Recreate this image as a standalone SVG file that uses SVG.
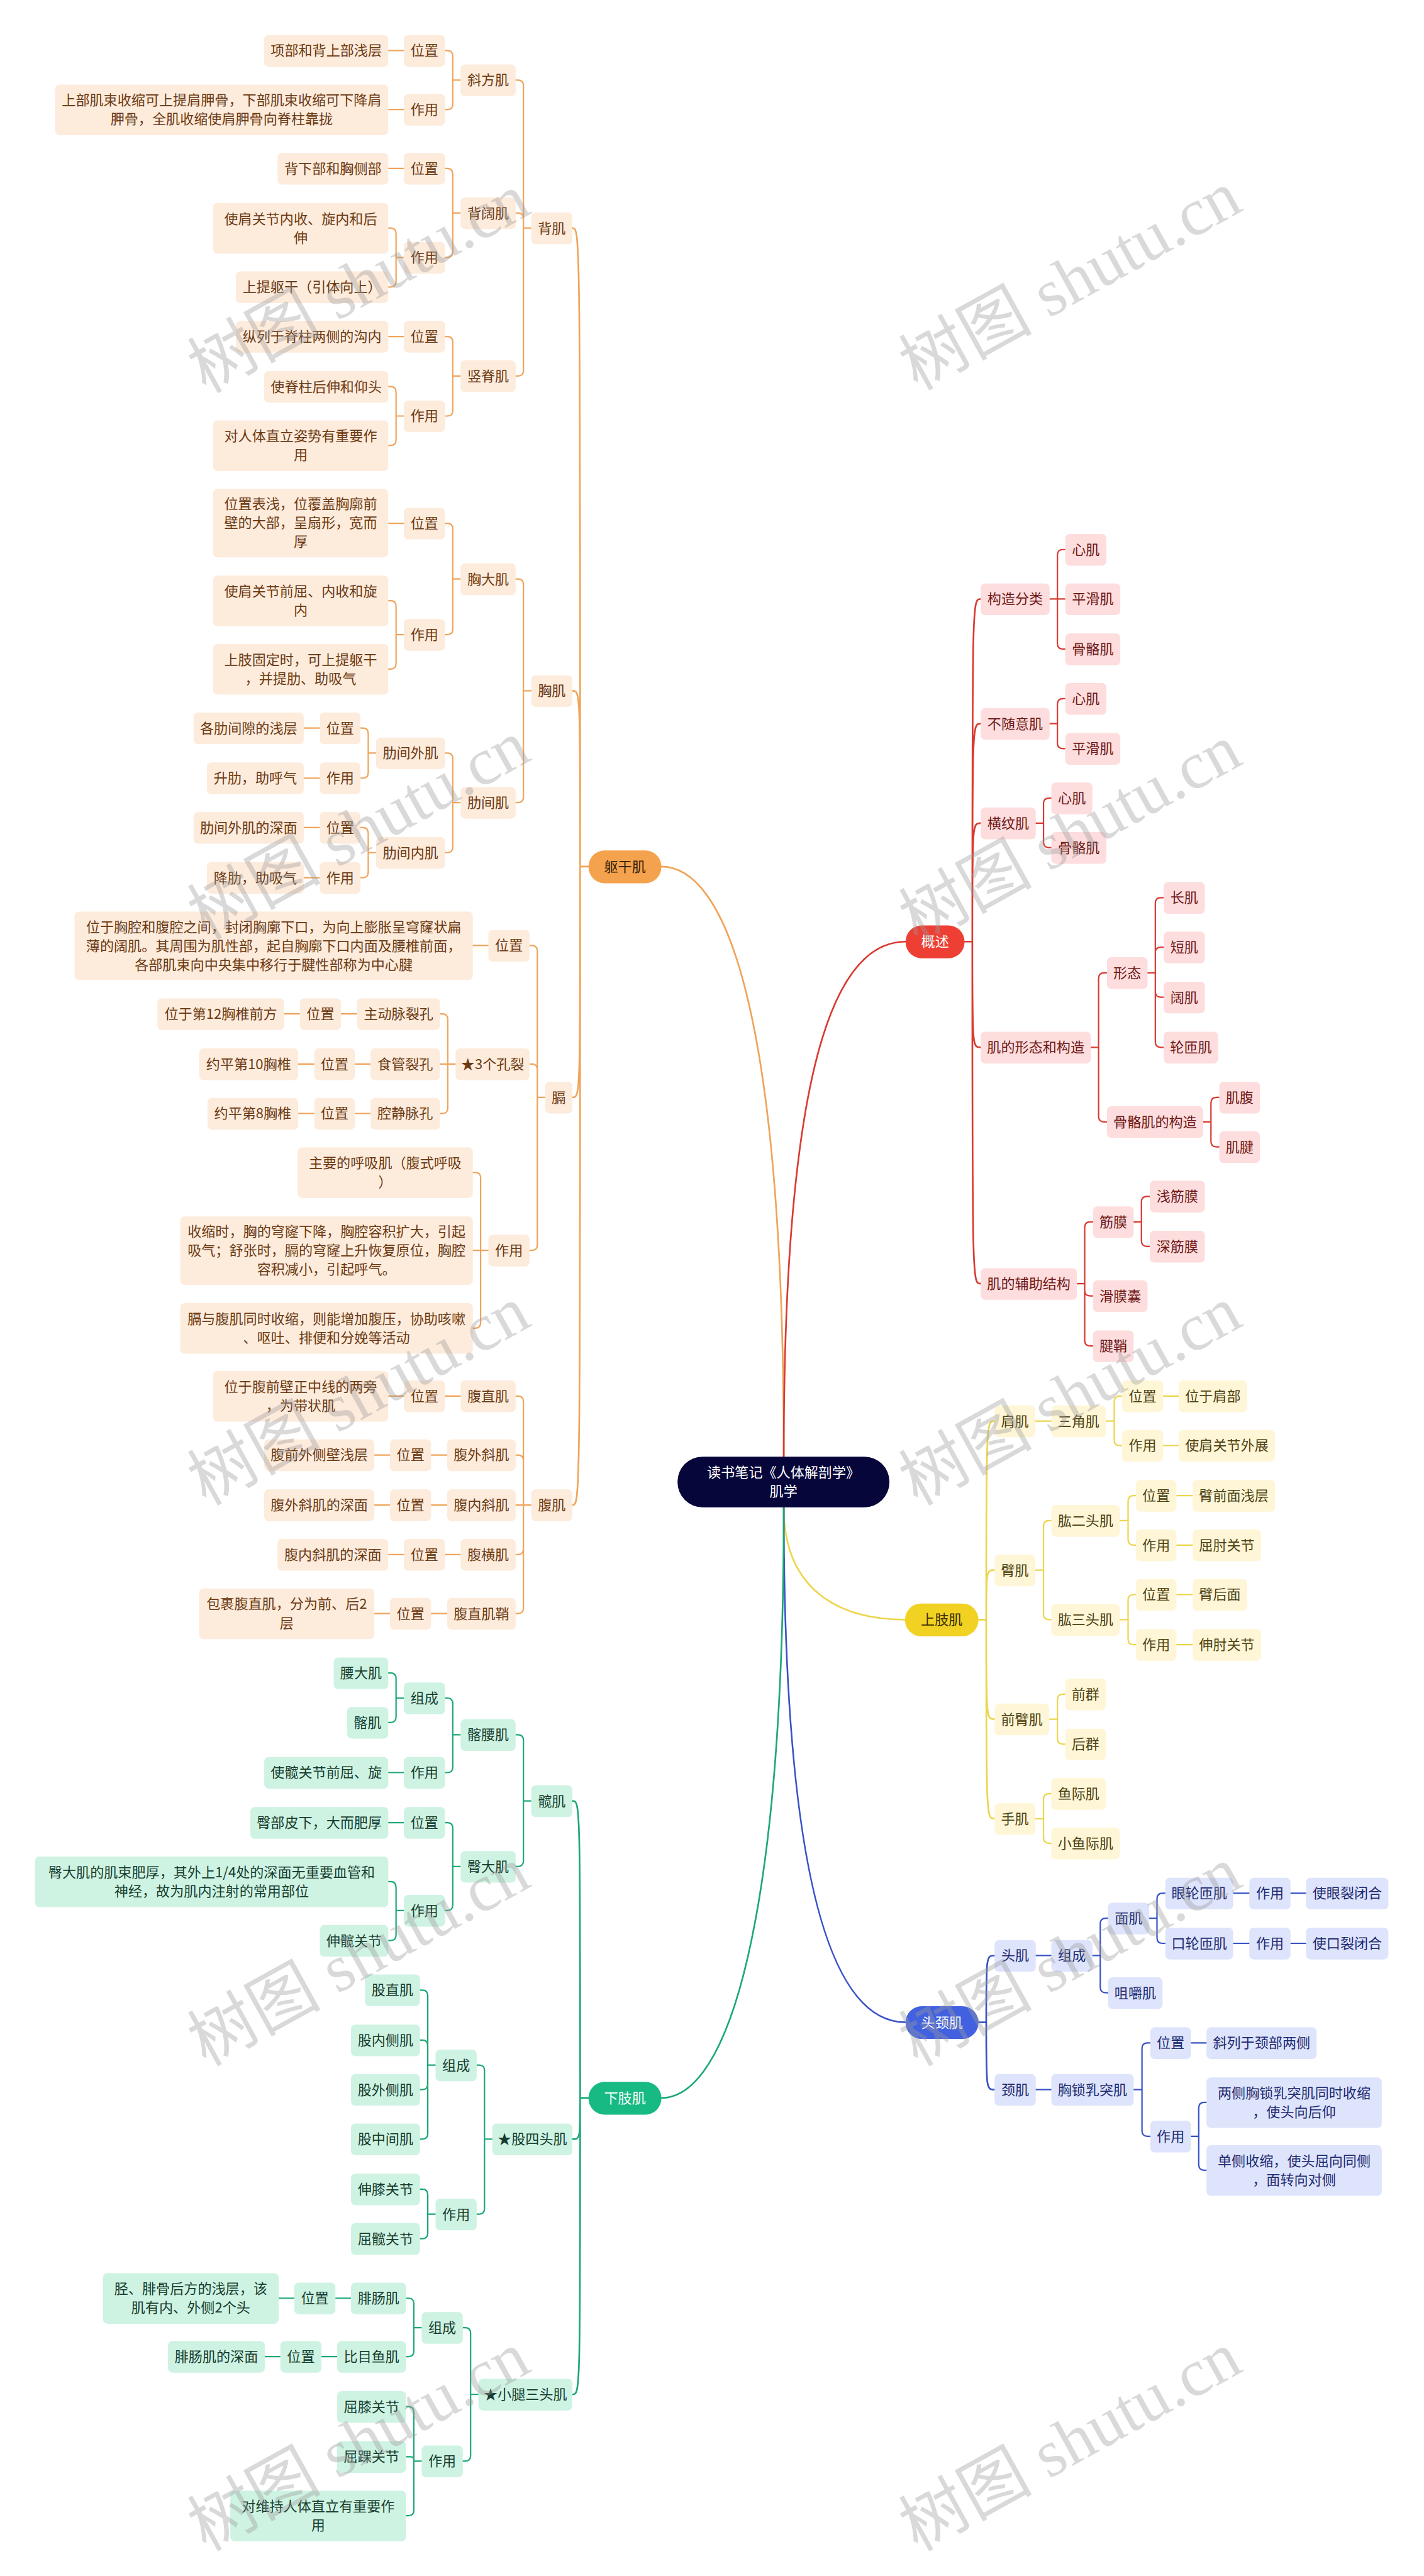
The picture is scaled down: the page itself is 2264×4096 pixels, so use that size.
<svg xmlns="http://www.w3.org/2000/svg" width="2264" height="4096" viewBox="0 0 2264 4096">
<style>
text{font-family:"Noto Sans CJK SC","Noto Sans",sans-serif;font-size:25px;text-anchor:middle}
.nd rect{rx:8px;ry:8px}
.o rect{fill:#FDEBDC}.o text{fill:#6B3A12}
.g rect{fill:#CFF3E3}.g text{fill:#163D2E}
.r rect{fill:#FDDDDD}.r text{fill:#6E1818}
.y rect{fill:#FEF6D6}.y text{fill:#4D4214}
.b rect{fill:#DDE4FB}.b text{fill:#1E2A70}
.p rect{rx:29px;ry:29px}
.po rect{fill:#F5A24E}.po text{fill:#3A2308}
.pg rect{fill:#16BA82}.pg text{fill:#fff}
.pr rect{fill:#EE3F35}.pr text{fill:#fff}
.py rect{fill:#F1D223}.py text{fill:#3A3000}
.pb rect{fill:#4161E0}.pb text{fill:#fff}
.ctr rect{fill:#06063A;rx:45px;ry:45px}.ctr text{fill:#fff}
.c{fill:none;stroke-width:2.5;stroke-linecap:round;stroke-linejoin:round}
.t{stroke-width:3}
.co{stroke:#F0A45A}.cg{stroke:#1CA878}.cr{stroke:#D93A31}.cyl{stroke:#EDD54A}.cb{stroke:#3852C6}
.wm{font-family:"Liberation Serif","Noto Sans CJK SC",serif;font-size:120px;fill:#9a9a9a;fill-opacity:.38;text-anchor:middle}
</style>
<rect width="2264" height="4096" fill="#fff"/>
<g transform="scale(0.884375)">
<g id="connectors">
<g id="center-links">
<path class="c t co" d="M1409 2619 C1409 1800 1300 1558 1189 1558"/>
<path class="c t cr" d="M1409 2619 C1409 1850 1520 1693 1628 1693"/>
<path class="c t cyl" d="M1409 2710 C1409 2860 1510 2912 1627 2912"/>
<path class="c t cb" d="M1409 2710 C1409 3400 1500 3636 1628 3636"/>
<path class="c t cg" d="M1409 2710 C1409 3450 1310 3772 1189 3772"/>
</g>
<g id="orange-links">
<path class="c t co" d="M1058 1558 H1043 M1043 1558 C1043 410 1043 410 1029 410 M1043 1558 C1043 1242 1043 1242 1029 1242 M1043 1558 C1043 1973 1043 1973 1029 1973 M1043 1558 C1043 2706 1043 2706 1029 2706"/>
<path class="c co" d="M955 410 H941 V154 Q941 144 931 144 H927 M955 410 H941 V393 Q941 383 931 383 H927 M955 410 H941 V666 Q941 676 931 676 H927"/>
<path class="c co" d="M828 144 H814 V101 Q814 91 804 91 H800 M828 144 H814 V187 Q814 197 804 197 H800 M726 91 H698 M726 197 H698"/>
<path class="c co" d="M828 383 H814 V313 Q814 303 804 303 H800 M828 383 H814 V453 Q814 463 804 463 H800 M726 303 H698 M726 463 H712 V420 Q712 410 702 410 H698 M726 463 H712 V506 Q712 516 702 516 H698"/>
<path class="c co" d="M828 676 H814 V615 Q814 605 804 605 H800 M828 676 H814 V738 Q814 748 804 748 H800 M726 605 H698 M726 748 H712 V705 Q712 695 702 695 H698 M726 748 H712 V791 Q712 801 702 801 H698"/>
<path class="c co" d="M955 1242 H941 V1051 Q941 1041 931 1041 H927 M955 1242 H941 V1433 Q941 1443 931 1443 H927"/>
<path class="c co" d="M828 1041 H814 V951 Q814 941 804 941 H800 M828 1041 H814 V1131 Q814 1141 804 1141 H800 M726 941 H698 M726 1141 H712 V1090 Q712 1080 702 1080 H698 M726 1141 H712 V1193 Q712 1203 702 1203 H698"/>
<path class="c co" d="M828 1443 H814 V1364 Q814 1354 804 1354 H800 M828 1443 H814 V1523 Q814 1533 804 1533 H800"/>
<path class="c co" d="M676 1354 H662 V1319 Q662 1309 652 1309 H648 M676 1354 H662 V1389 Q662 1399 652 1399 H648 M575 1309 H546 M575 1399 H546"/>
<path class="c co" d="M676 1533 H662 V1498 Q662 1488 652 1488 H648 M676 1533 H662 V1568 Q662 1578 652 1578 H648 M575 1488 H546 M575 1578 H546"/>
<path class="c co" d="M980 1973 H966 V1710 Q966 1700 956 1700 H952 M980 1973 H966 V1923 Q966 1913 956 1913 H952 M980 1973 H966 V2238 Q966 2248 956 2248 H952 M878 1700 H850"/>
<path class="c co" d="M819 1913 H805 V1833 Q805 1823 795 1823 H791 M819 1913 H791 M819 1913 H805 V1992 Q805 2002 795 2002 H791 M642 1823 H613 M539 1823 H511 M666 1913 H638 M565 1913 H536 M666 2002 H638 M565 2002 H536"/>
<path class="c co" d="M878 2248 H864 V2118 Q864 2108 854 2108 H850 M878 2248 H850 M878 2248 H864 V2378 Q864 2388 854 2388 H850"/>
<path class="c co" d="M955 2706 H941 V2520 Q941 2510 931 2510 H927 M955 2706 H941 V2626 Q941 2616 931 2616 H927 M955 2706 H927 M955 2706 H941 V2785 Q941 2795 931 2795 H927 M955 2706 H941 V2891 Q941 2901 931 2901 H927"/>
<path class="c co" d="M828 2510 H800 M726 2510 H698 M804 2616 H775 M701 2616 H673 M804 2706 H775 M701 2706 H673 M828 2795 H800 M726 2795 H698 M804 2901 H775 M701 2901 H673"/>
</g>
<g id="green-links">
<path class="c t cg" d="M1058 3772 H1043 M1043 3772 C1043 3238 1043 3238 1029 3238 M1043 3772 C1043 3846 1043 3846 1029 3846 M1043 3772 C1043 4305 1043 4305 1029 4305"/>
<path class="c cg" d="M955 3238 H941 V3129 Q941 3119 931 3119 H927 M955 3238 H941 V3346 Q941 3356 931 3356 H927"/>
<path class="c cg" d="M828 3119 H814 V3063 Q814 3053 804 3053 H800 M828 3119 H814 V3177 Q814 3187 804 3187 H800 M726 3053 H712 V3018 Q712 3008 702 3008 H698 M726 3053 H712 V3087 Q712 3097 702 3097 H698 M726 3187 H698"/>
<path class="c cg" d="M828 3356 H814 V3287 Q814 3277 804 3277 H800 M828 3356 H814 V3425 Q814 3435 804 3435 H800 M726 3277 H698 M726 3435 H712 V3393 Q712 3383 702 3383 H698 M726 3435 H712 V3479 Q712 3489 702 3489 H698"/>
<path class="c cg" d="M885 3846 H871 V3723 Q871 3713 861 3713 H857 M885 3846 H871 V3971 Q871 3981 861 3981 H857"/>
<path class="c cg" d="M783 3713 H769 V3588 Q769 3578 759 3578 H755 M783 3713 H769 V3678 Q769 3668 759 3668 H755 M783 3713 H769 V3747 Q769 3757 759 3757 H755 M783 3713 H769 V3836 Q769 3846 759 3846 H755 M783 3981 H769 V3946 Q769 3936 759 3936 H755 M783 3981 H769 V4015 Q769 4025 759 4025 H755"/>
<path class="c cg" d="M860 4305 H846 V4195 Q846 4185 836 4185 H832 M860 4305 H846 V4415 Q846 4425 836 4425 H832"/>
<path class="c cg" d="M758 4185 H744 V4142 Q744 4132 734 4132 H730 M758 4185 H744 V4227 Q744 4237 734 4237 H730 M631 4132 H603 M529 4132 H501 M606 4237 H578 M504 4237 H476"/>
<path class="c cg" d="M758 4425 H744 V4337 Q744 4327 734 4327 H730 M758 4425 H744 V4423 Q744 4417 738 4417 H730 M758 4425 H744 V4513 Q744 4523 734 4523 H730"/>
</g>
<g id="red-links">
<path class="c t cr" d="M1734 1693 H1748 M1748 1693 C1748 1077 1748 1077 1763 1077 M1748 1693 C1748 1301 1748 1301 1763 1301 M1748 1693 C1748 1480 1748 1480 1763 1480 M1748 1693 C1748 1883 1748 1883 1763 1883 M1748 1693 C1748 2308 1748 2308 1763 2308"/>
<path class="c cr" d="M1887 1077 H1901 V998 Q1901 988 1911 988 H1915 M1887 1077 H1915 M1887 1077 H1901 V1157 Q1901 1167 1911 1167 H1915"/>
<path class="c cr" d="M1887 1301 H1901 V1266 Q1901 1256 1911 1256 H1915 M1887 1301 H1901 V1336 Q1901 1346 1911 1346 H1915"/>
<path class="c cr" d="M1862 1480 H1876 V1445 Q1876 1435 1886 1435 H1890 M1862 1480 H1876 V1514 Q1876 1524 1886 1524 H1890"/>
<path class="c cr" d="M1961 1883 H1975 V1759 Q1975 1749 1985 1749 H1990 M1961 1883 H1975 V2007 Q1975 2017 1985 2017 H1990"/>
<path class="c cr" d="M2063 1749 H2077 V1624 Q2077 1614 2087 1614 H2092 M2063 1749 H2077 V1713 Q2077 1703 2087 1703 H2092 M2063 1749 H2077 V1783 Q2077 1793 2087 1793 H2092 M2063 1749 H2077 V1873 Q2077 1883 2087 1883 H2092"/>
<path class="c cr" d="M2163 2017 H2177 V1983 Q2177 1973 2187 1973 H2192 M2163 2017 H2177 V2052 Q2177 2062 2187 2062 H2192"/>
<path class="c cr" d="M1936 2308 H1950 V2207 Q1950 2197 1960 2197 H1965 M1936 2308 H1950 V2320 Q1950 2330 1960 2330 H1965 M1936 2308 H1950 V2410 Q1950 2420 1960 2420 H1965"/>
<path class="c cr" d="M2038 2197 H2052 V2161 Q2052 2151 2062 2151 H2067 M2038 2197 H2052 V2231 Q2052 2241 2062 2241 H2067"/>
</g>
<g id="yellow-links">
<path class="c t cyl" d="M1759 2912 H1773 M1773 2912 C1773 2555 1773 2555 1788 2555 M1773 2912 C1773 2823 1773 2823 1788 2823 M1773 2912 C1773 3091 1773 3091 1788 3091 M1773 2912 C1773 3270 1773 3270 1788 3270"/>
<path class="c cyl" d="M1861 2555 H1890 M1988 2555 H2003 V2520 Q2003 2510 2013 2510 H2017 M1988 2555 H2003 V2589 Q2003 2599 2013 2599 H2017 M2091 2510 H2119 M2091 2599 H2119"/>
<path class="c cyl" d="M1861 2823 H1876 V2744 Q1876 2734 1886 2734 H1890 M1861 2823 H1876 V2902 Q1876 2912 1886 2912 H1890"/>
<path class="c cyl" d="M2013 2734 H2028 V2699 Q2028 2689 2038 2689 H2042 M2013 2734 H2028 V2768 Q2028 2778 2038 2778 H2042 M2115 2689 H2144 M2115 2778 H2144"/>
<path class="c cyl" d="M2013 2912 H2028 V2877 Q2028 2867 2038 2867 H2042 M2013 2912 H2028 V2947 Q2028 2957 2038 2957 H2042 M2115 2867 H2144 M2115 2957 H2144"/>
<path class="c cyl" d="M1886 3091 H1901 V3056 Q1901 3046 1911 3046 H1915 M1886 3091 H1901 V3126 Q1901 3136 1911 3136 H1915"/>
<path class="c cyl" d="M1861 3270 H1876 V3235 Q1876 3225 1886 3225 H1890 M1861 3270 H1876 V3304 Q1876 3314 1886 3314 H1890"/>
</g>
<g id="blue-links">
<path class="c t cb" d="M1759 3636 H1773 M1773 3636 C1773 3516 1773 3516 1788 3516 M1773 3636 C1773 3757 1773 3757 1788 3757"/>
<path class="c cb" d="M1862 3516 H1890 M1964 3516 H1978 V3459 Q1978 3449 1988 3449 H1992 M1964 3516 H1978 V3573 Q1978 3583 1988 3583 H1992"/>
<path class="c cb" d="M2066 3449 H2080 V3414 Q2080 3404 2090 3404 H2095 M2066 3449 H2080 V3484 Q2080 3494 2090 3494 H2095 M2217 3404 H2246 M2320 3404 H2348 M2217 3494 H2246 M2320 3494 H2348"/>
<path class="c cb" d="M1862 3757 H1890 M2038 3757 H2053 V3683 Q2053 3673 2063 3673 H2068 M2038 3757 H2053 V3831 Q2053 3841 2063 3841 H2068 M2141 3673 H2169"/>
<path class="c cb" d="M2141 3841 H2155 V3790 Q2155 3780 2165 3780 H2169 M2141 3841 H2155 V3892 Q2155 3902 2165 3902 H2169"/>
</g>
</g>

<g id="nodes">
<g id="root" class="ctr"><rect x="1218" y="2619" width="381" height="91"/><text x="1408.5" y="2656">读书笔记《人体解剖学》</text><text x="1408.5" y="2690">肌学</text></g>

<g id="n-qugan" class="nd p po"><rect x="1058" y="1529" width="131" height="59"/><text x="1123.5" y="1567">躯干肌</text></g>
<g id="n-beiji" class="nd o"><rect x="955" y="382" width="74" height="57"/><text x="992" y="419">背肌</text></g>
<g id="n-xiefang" class="nd o"><rect x="828" y="116" width="99" height="57"/><text x="877.5" y="153">斜方肌</text></g>
<g id="n-xf-wz" class="nd o"><rect x="726" y="63" width="74" height="57"/><text x="763" y="100">位置</text></g>
<g id="n-xf-wz-t" class="nd o"><rect x="475" y="63" width="223" height="57"/><text x="586.5" y="100">项部和背上部浅层</text></g>
<g id="n-xf-zy" class="nd o"><rect x="726" y="169" width="74" height="57"/><text x="763" y="206">作用</text></g>
<g id="n-xf-zy-t" class="nd o"><rect x="99" y="152" width="599" height="91"/><text x="398.5" y="189">上部肌束收缩可上提肩胛骨，下部肌束收缩可下降肩</text><text x="398.5" y="223">胛骨，全肌收缩使肩胛骨向脊柱靠拢</text></g>
<g id="n-beikuo" class="nd o"><rect x="828" y="355" width="99" height="57"/><text x="877.5" y="392">背阔肌</text></g>
<g id="n-bk-wz" class="nd o"><rect x="726" y="275" width="74" height="57"/><text x="763" y="312">位置</text></g>
<g id="n-bk-wz-t" class="nd o"><rect x="499" y="275" width="199" height="57"/><text x="598.5" y="312">背下部和胸侧部</text></g>
<g id="n-bk-zy" class="nd o"><rect x="726" y="435" width="74" height="57"/><text x="763" y="472">作用</text></g>
<g id="n-bk-zy-1" class="nd o"><rect x="383" y="365" width="315" height="91"/><text x="540.5" y="402">使肩关节内收、旋内和后</text><text x="540.5" y="436">伸</text></g>
<g id="n-bk-zy-2" class="nd o"><rect x="424" y="488" width="274" height="57"/><text x="561" y="525">上提躯干（引体向上）</text></g>
<g id="n-shuji" class="nd o"><rect x="828" y="648" width="99" height="57"/><text x="877.5" y="685">竖脊肌</text></g>
<g id="n-sj-wz" class="nd o"><rect x="726" y="577" width="74" height="57"/><text x="763" y="614">位置</text></g>
<g id="n-sj-wz-t" class="nd o"><rect x="424" y="577" width="274" height="57"/><text x="561" y="614">纵列于脊柱两侧的沟内</text></g>
<g id="n-sj-zy" class="nd o"><rect x="726" y="720" width="74" height="57"/><text x="763" y="757">作用</text></g>
<g id="n-sj-zy-1" class="nd o"><rect x="475" y="667" width="223" height="57"/><text x="586.5" y="704">使脊柱后伸和仰头</text></g>
<g id="n-sj-zy-2" class="nd o"><rect x="383" y="756" width="315" height="91"/><text x="540.5" y="793">对人体直立姿势有重要作</text><text x="540.5" y="827">用</text></g>
<g id="n-xiongji" class="nd o"><rect x="955" y="1214" width="74" height="57"/><text x="992" y="1251">胸肌</text></g>
<g id="n-xiongda" class="nd o"><rect x="828" y="1013" width="99" height="57"/><text x="877.5" y="1050">胸大肌</text></g>
<g id="n-xd-wz" class="nd o"><rect x="726" y="913" width="74" height="57"/><text x="763" y="950">位置</text></g>
<g id="n-xd-wz-t" class="nd o"><rect x="383" y="879" width="315" height="123"/><text x="540.5" y="915">位置表浅，位覆盖胸廓前</text><text x="540.5" y="949">壁的大部，呈扇形，宽而</text><text x="540.5" y="983">厚</text></g>
<g id="n-xd-zy" class="nd o"><rect x="726" y="1113" width="74" height="57"/><text x="763" y="1150">作用</text></g>
<g id="n-xd-zy-1" class="nd o"><rect x="383" y="1035" width="315" height="91"/><text x="540.5" y="1072">使肩关节前屈、内收和旋</text><text x="540.5" y="1106">内</text></g>
<g id="n-xd-zy-2" class="nd o"><rect x="383" y="1158" width="315" height="91"/><text x="540.5" y="1195">上肢固定时，可上提躯干</text><text x="540.5" y="1229">，并提肋、助吸气</text></g>
<g id="n-leijian" class="nd o"><rect x="828" y="1415" width="99" height="57"/><text x="877.5" y="1452">肋间肌</text></g>
<g id="n-ljw" class="nd o"><rect x="676" y="1326" width="124" height="57"/><text x="738" y="1363">肋间外肌</text></g>
<g id="n-ljw-wz" class="nd o"><rect x="575" y="1281" width="73" height="57"/><text x="611.5" y="1318">位置</text></g>
<g id="n-ljw-wz-t" class="nd o"><rect x="348" y="1281" width="198" height="57"/><text x="447" y="1318">各肋间隙的浅层</text></g>
<g id="n-ljw-zy" class="nd o"><rect x="575" y="1371" width="73" height="57"/><text x="611.5" y="1408">作用</text></g>
<g id="n-ljw-zy-t" class="nd o"><rect x="372" y="1371" width="174" height="57"/><text x="459" y="1408">升肋，助呼气</text></g>
<g id="n-ljn" class="nd o"><rect x="676" y="1505" width="124" height="57"/><text x="738" y="1542">肋间内肌</text></g>
<g id="n-ljn-wz" class="nd o"><rect x="575" y="1460" width="73" height="57"/><text x="611.5" y="1497">位置</text></g>
<g id="n-ljn-wz-t" class="nd o"><rect x="348" y="1460" width="198" height="57"/><text x="447" y="1497">肋间外肌的深面</text></g>
<g id="n-ljn-zy" class="nd o"><rect x="575" y="1550" width="73" height="57"/><text x="611.5" y="1587">作用</text></g>
<g id="n-ljn-zy-t" class="nd o"><rect x="372" y="1550" width="174" height="57"/><text x="459" y="1587">降肋，助吸气</text></g>
<g id="n-ge" class="nd o"><rect x="980" y="1945" width="49" height="57"/><text x="1004.5" y="1982">膈</text></g>
<g id="n-ge-wz" class="nd o"><rect x="878" y="1672" width="74" height="57"/><text x="915" y="1709">位置</text></g>
<g id="n-ge-wz-t" class="nd o"><rect x="134" y="1639" width="716" height="123"/><text x="492" y="1676">位于胸腔和腹腔之间，封闭胸廓下口，为向上膨胀呈穹窿状扁</text><text x="492" y="1710">薄的阔肌。其周围为肌性部，起自胸廓下口内面及腰椎前面，</text><text x="492" y="1744">各部肌束向中央集中移行于腱性部称为中心腱</text></g>
<g id="n-kl" class="nd o"><rect x="819" y="1885" width="133" height="57"/><text x="885.5" y="1922">★3个孔裂</text></g>
<g id="n-zdm" class="nd o"><rect x="642" y="1795" width="149" height="57"/><text x="716.5" y="1832">主动脉裂孔</text></g>
<g id="n-zdm-wz" class="nd o"><rect x="539" y="1795" width="74" height="57"/><text x="576" y="1832">位置</text></g>
<g id="n-zdm-t" class="nd o"><rect x="283" y="1795" width="228" height="57"/><text x="397" y="1832">位于第12胸椎前方</text></g>
<g id="n-sg" class="nd o"><rect x="666" y="1885" width="125" height="57"/><text x="728.5" y="1922">食管裂孔</text></g>
<g id="n-sg-wz" class="nd o"><rect x="565" y="1885" width="73" height="57"/><text x="601.5" y="1922">位置</text></g>
<g id="n-sg-t" class="nd o"><rect x="358" y="1885" width="178" height="57"/><text x="447" y="1922">约平第10胸椎</text></g>
<g id="n-qj" class="nd o"><rect x="666" y="1974" width="125" height="57"/><text x="728.5" y="2011">腔静脉孔</text></g>
<g id="n-qj-wz" class="nd o"><rect x="565" y="1974" width="73" height="57"/><text x="601.5" y="2011">位置</text></g>
<g id="n-qj-t" class="nd o"><rect x="373" y="1974" width="163" height="57"/><text x="454.5" y="2011">约平第8胸椎</text></g>
<g id="n-ge-zy" class="nd o"><rect x="878" y="2220" width="74" height="57"/><text x="915" y="2257">作用</text></g>
<g id="n-ge-zy-1" class="nd o"><rect x="535" y="2063" width="315" height="91"/><text x="692.5" y="2100">主要的呼吸肌（腹式呼吸</text><text x="692.5" y="2134">）</text></g>
<g id="n-ge-zy-2" class="nd o"><rect x="324" y="2187" width="526" height="123"/><text x="587" y="2223">收缩时，胸的穹窿下降，胸腔容积扩大，引起</text><text x="587" y="2257">吸气；舒张时，膈的穹窿上升恢复原位，胸腔</text><text x="587" y="2291">容积减小，引起呼气。</text></g>
<g id="n-ge-zy-3" class="nd o"><rect x="324" y="2343" width="526" height="91"/><text x="587" y="2380">膈与腹肌同时收缩，则能增加腹压，协助咳嗽</text><text x="587" y="2414">、呕吐、排便和分娩等活动</text></g>
<g id="n-fuji" class="nd o"><rect x="955" y="2678" width="74" height="57"/><text x="992" y="2715">腹肌</text></g>
<g id="n-fzj" class="nd o"><rect x="828" y="2482" width="99" height="57"/><text x="877.5" y="2519">腹直肌</text></g>
<g id="n-fzj-wz" class="nd o"><rect x="726" y="2482" width="74" height="57"/><text x="763" y="2519">位置</text></g>
<g id="n-fzj-t" class="nd o"><rect x="383" y="2465" width="315" height="91"/><text x="540.5" y="2502">位于腹前壁正中线的两旁</text><text x="540.5" y="2536">，为带状肌</text></g>
<g id="n-fwx" class="nd o"><rect x="804" y="2588" width="123" height="57"/><text x="865.5" y="2625">腹外斜肌</text></g>
<g id="n-fwx-wz" class="nd o"><rect x="701" y="2588" width="74" height="57"/><text x="738" y="2625">位置</text></g>
<g id="n-fwx-t" class="nd o"><rect x="475" y="2588" width="198" height="57"/><text x="574" y="2625">腹前外侧壁浅层</text></g>
<g id="n-fnx" class="nd o"><rect x="804" y="2678" width="123" height="57"/><text x="865.5" y="2715">腹内斜肌</text></g>
<g id="n-fnx-wz" class="nd o"><rect x="701" y="2678" width="74" height="57"/><text x="738" y="2715">位置</text></g>
<g id="n-fnx-t" class="nd o"><rect x="475" y="2678" width="198" height="57"/><text x="574" y="2715">腹外斜肌的深面</text></g>
<g id="n-fh" class="nd o"><rect x="828" y="2767" width="99" height="57"/><text x="877.5" y="2804">腹横肌</text></g>
<g id="n-fh-wz" class="nd o"><rect x="726" y="2767" width="74" height="57"/><text x="763" y="2804">位置</text></g>
<g id="n-fh-t" class="nd o"><rect x="499" y="2767" width="199" height="57"/><text x="598.5" y="2804">腹内斜肌的深面</text></g>
<g id="n-fzq" class="nd o"><rect x="804" y="2873" width="123" height="57"/><text x="865.5" y="2910">腹直肌鞘</text></g>
<g id="n-fzq-wz" class="nd o"><rect x="701" y="2873" width="74" height="57"/><text x="738" y="2910">位置</text></g>
<g id="n-fzq-t" class="nd o"><rect x="358" y="2856" width="315" height="91"/><text x="515.5" y="2893">包裹腹直肌，分为前、后2</text><text x="515.5" y="2927">层</text></g>

<g id="n-xiazhi" class="nd p pg"><rect x="1058" y="3743" width="131" height="59"/><text x="1123.5" y="3781">下肢肌</text></g>
<g id="n-kuanji" class="nd g"><rect x="955" y="3210" width="74" height="57"/><text x="992" y="3247">髋肌</text></g>
<g id="n-qiayao" class="nd g"><rect x="828" y="3091" width="99" height="57"/><text x="877.5" y="3128">髂腰肌</text></g>
<g id="n-qy-zc" class="nd g"><rect x="726" y="3025" width="74" height="57"/><text x="763" y="3062">组成</text></g>
<g id="n-yaoda" class="nd g"><rect x="600" y="2980" width="98" height="57"/><text x="649" y="3017">腰大肌</text></g>
<g id="n-qiaji" class="nd g"><rect x="624" y="3069" width="74" height="57"/><text x="661" y="3106">髂肌</text></g>
<g id="n-qy-zy" class="nd g"><rect x="726" y="3159" width="74" height="57"/><text x="763" y="3196">作用</text></g>
<g id="n-qy-zy-t" class="nd g"><rect x="475" y="3159" width="223" height="57"/><text x="586.5" y="3196">使髋关节前屈、旋</text></g>
<g id="n-tunda" class="nd g"><rect x="828" y="3328" width="99" height="57"/><text x="877.5" y="3365">臀大肌</text></g>
<g id="n-td-wz" class="nd g"><rect x="726" y="3249" width="74" height="57"/><text x="763" y="3286">位置</text></g>
<g id="n-td-wz-t" class="nd g"><rect x="450" y="3249" width="248" height="57"/><text x="574" y="3286">臀部皮下，大而肥厚</text></g>
<g id="n-td-zy" class="nd g"><rect x="726" y="3407" width="74" height="57"/><text x="763" y="3444">作用</text></g>
<g id="n-td-zy-1" class="nd g"><rect x="63" y="3338" width="635" height="91"/><text x="380.5" y="3375">臀大肌的肌束肥厚，其外上1/4处的深面无重要血管和</text><text x="380.5" y="3409">神经，故为肌内注射的常用部位</text></g>
<g id="n-td-zy-2" class="nd g"><rect x="575" y="3461" width="123" height="57"/><text x="636.5" y="3498">伸髋关节</text></g>
<g id="n-gstj" class="nd g"><rect x="885" y="3818" width="144" height="57"/><text x="957" y="3855">★股四头肌</text></g>
<g id="n-gs-zc" class="nd g"><rect x="783" y="3685" width="74" height="57"/><text x="820" y="3722">组成</text></g>
<g id="n-guzhi" class="nd g"><rect x="656" y="3550" width="99" height="57"/><text x="705.5" y="3587">股直肌</text></g>
<g id="n-gunei" class="nd g"><rect x="631" y="3640" width="124" height="57"/><text x="693" y="3677">股内侧肌</text></g>
<g id="n-guwai" class="nd g"><rect x="631" y="3729" width="124" height="57"/><text x="693" y="3766">股外侧肌</text></g>
<g id="n-guzj" class="nd g"><rect x="631" y="3818" width="124" height="57"/><text x="693" y="3855">股中间肌</text></g>
<g id="n-gs-zy" class="nd g"><rect x="783" y="3953" width="74" height="57"/><text x="820" y="3990">作用</text></g>
<g id="n-shenxi" class="nd g"><rect x="631" y="3908" width="124" height="57"/><text x="693" y="3945">伸膝关节</text></g>
<g id="n-qukuan" class="nd g"><rect x="631" y="3997" width="124" height="57"/><text x="693" y="4034">屈髋关节</text></g>
<g id="n-xtsj" class="nd g"><rect x="860" y="4277" width="169" height="57"/><text x="944.5" y="4314">★小腿三头肌</text></g>
<g id="n-xt-zc" class="nd g"><rect x="758" y="4157" width="74" height="57"/><text x="795" y="4194">组成</text></g>
<g id="n-feichang" class="nd g"><rect x="631" y="4104" width="99" height="57"/><text x="680.5" y="4141">腓肠肌</text></g>
<g id="n-fc-wz" class="nd g"><rect x="529" y="4104" width="74" height="57"/><text x="566" y="4141">位置</text></g>
<g id="n-fc-t" class="nd g"><rect x="185" y="4087" width="316" height="91"/><text x="343" y="4124">胫、腓骨后方的浅层，该</text><text x="343" y="4158">肌有内、外侧2个头</text></g>
<g id="n-bimuyu" class="nd g"><rect x="606" y="4209" width="124" height="57"/><text x="668" y="4246">比目鱼肌</text></g>
<g id="n-bm-wz" class="nd g"><rect x="504" y="4209" width="74" height="57"/><text x="541" y="4246">位置</text></g>
<g id="n-bm-t" class="nd g"><rect x="302" y="4209" width="174" height="57"/><text x="389" y="4246">腓肠肌的深面</text></g>
<g id="n-xt-zy" class="nd g"><rect x="758" y="4397" width="74" height="57"/><text x="795" y="4434">作用</text></g>
<g id="n-quxi" class="nd g"><rect x="606" y="4299" width="124" height="57"/><text x="668" y="4336">屈膝关节</text></g>
<g id="n-qukuai" class="nd g"><rect x="606" y="4389" width="124" height="57"/><text x="668" y="4426">屈踝关节</text></g>
<g id="n-xt-zy-3" class="nd g"><rect x="414" y="4478" width="316" height="91"/><text x="572" y="4515">对维持人体直立有重要作</text><text x="572" y="4549">用</text></g>

<g id="n-gaishu" class="nd p pr"><rect x="1628" y="1664" width="106" height="59"/><text x="1681" y="1702">概述</text></g>
<g id="n-gzfl" class="nd r"><rect x="1763" y="1049" width="124" height="57"/><text x="1825" y="1086">构造分类</text></g>
<g id="n-gz-1" class="nd r"><rect x="1915" y="960" width="74" height="57"/><text x="1952" y="997">心肌</text></g>
<g id="n-gz-2" class="nd r"><rect x="1915" y="1049" width="99" height="57"/><text x="1964.5" y="1086">平滑肌</text></g>
<g id="n-gz-3" class="nd r"><rect x="1915" y="1139" width="99" height="57"/><text x="1964.5" y="1176">骨骼肌</text></g>
<g id="n-bsy" class="nd r"><rect x="1763" y="1273" width="124" height="57"/><text x="1825" y="1310">不随意肌</text></g>
<g id="n-bsy-1" class="nd r"><rect x="1915" y="1228" width="74" height="57"/><text x="1952" y="1265">心肌</text></g>
<g id="n-bsy-2" class="nd r"><rect x="1915" y="1318" width="99" height="57"/><text x="1964.5" y="1355">平滑肌</text></g>
<g id="n-hw" class="nd r"><rect x="1763" y="1452" width="99" height="57"/><text x="1812.5" y="1489">横纹肌</text></g>
<g id="n-hw-1" class="nd r"><rect x="1890" y="1407" width="74" height="57"/><text x="1927" y="1444">心肌</text></g>
<g id="n-hw-2" class="nd r"><rect x="1890" y="1496" width="99" height="57"/><text x="1939.5" y="1533">骨骼肌</text></g>
<g id="n-xtgz" class="nd r"><rect x="1763" y="1855" width="198" height="57"/><text x="1862" y="1892">肌的形态和构造</text></g>
<g id="n-xt" class="nd r"><rect x="1990" y="1721" width="73" height="57"/><text x="2026.5" y="1758">形态</text></g>
<g id="n-xt-1" class="nd r"><rect x="2092" y="1586" width="74" height="57"/><text x="2129" y="1623">长肌</text></g>
<g id="n-xt-2" class="nd r"><rect x="2092" y="1675" width="74" height="57"/><text x="2129" y="1712">短肌</text></g>
<g id="n-xt-3" class="nd r"><rect x="2092" y="1765" width="74" height="57"/><text x="2129" y="1802">阔肌</text></g>
<g id="n-xt-4" class="nd r"><rect x="2092" y="1855" width="98" height="57"/><text x="2141" y="1892">轮匝肌</text></g>
<g id="n-ggjg" class="nd r"><rect x="1990" y="1989" width="173" height="57"/><text x="2076.5" y="2026">骨骼肌的构造</text></g>
<g id="n-jf" class="nd r"><rect x="2192" y="1945" width="73" height="57"/><text x="2228.5" y="1982">肌腹</text></g>
<g id="n-jj" class="nd r"><rect x="2192" y="2034" width="73" height="57"/><text x="2228.5" y="2071">肌腱</text></g>
<g id="n-fzjg" class="nd r"><rect x="1763" y="2280" width="173" height="57"/><text x="1849.5" y="2317">肌的辅助结构</text></g>
<g id="n-jm" class="nd r"><rect x="1965" y="2169" width="73" height="57"/><text x="2001.5" y="2206">筋膜</text></g>
<g id="n-qjm" class="nd r"><rect x="2067" y="2123" width="99" height="57"/><text x="2116.5" y="2160">浅筋膜</text></g>
<g id="n-sjm" class="nd r"><rect x="2067" y="2213" width="99" height="57"/><text x="2116.5" y="2250">深筋膜</text></g>
<g id="n-hmn" class="nd r"><rect x="1965" y="2302" width="98" height="57"/><text x="2014" y="2339">滑膜囊</text></g>
<g id="n-jq" class="nd r"><rect x="1965" y="2392" width="73" height="57"/><text x="2001.5" y="2429">腱鞘</text></g>

<g id="n-shangzhi" class="nd p py"><rect x="1627" y="2883" width="132" height="59"/><text x="1693" y="2921">上肢肌</text></g>
<g id="n-jianji" class="nd y"><rect x="1788" y="2527" width="73" height="57"/><text x="1824.5" y="2564">肩肌</text></g>
<g id="n-sanjiao" class="nd y"><rect x="1890" y="2527" width="98" height="57"/><text x="1939" y="2564">三角肌</text></g>
<g id="n-sj-wz2" class="nd y"><rect x="2017" y="2482" width="74" height="57"/><text x="2054" y="2519">位置</text></g>
<g id="n-sj-wz2-t" class="nd y"><rect x="2119" y="2482" width="123" height="57"/><text x="2180.5" y="2519">位于肩部</text></g>
<g id="n-sj-zy2" class="nd y"><rect x="2017" y="2571" width="74" height="57"/><text x="2054" y="2608">作用</text></g>
<g id="n-sj-zy2-t" class="nd y"><rect x="2119" y="2571" width="173" height="57"/><text x="2205.5" y="2608">使肩关节外展</text></g>
<g id="n-biji" class="nd y"><rect x="1788" y="2795" width="73" height="57"/><text x="1824.5" y="2832">臂肌</text></g>
<g id="n-gert" class="nd y"><rect x="1890" y="2706" width="123" height="57"/><text x="1951.5" y="2743">肱二头肌</text></g>
<g id="n-ge-wz2" class="nd y"><rect x="2042" y="2661" width="73" height="57"/><text x="2078.5" y="2698">位置</text></g>
<g id="n-ge-wz2-t" class="nd y"><rect x="2144" y="2661" width="148" height="57"/><text x="2218" y="2698">臂前面浅层</text></g>
<g id="n-ge-zy2" class="nd y"><rect x="2042" y="2750" width="73" height="57"/><text x="2078.5" y="2787">作用</text></g>
<g id="n-ge-zy2-t" class="nd y"><rect x="2144" y="2750" width="123" height="57"/><text x="2205.5" y="2787">屈肘关节</text></g>
<g id="n-gsant" class="nd y"><rect x="1890" y="2884" width="123" height="57"/><text x="1951.5" y="2921">肱三头肌</text></g>
<g id="n-gs-wz2" class="nd y"><rect x="2042" y="2839" width="73" height="57"/><text x="2078.5" y="2876">位置</text></g>
<g id="n-gs-wz2-t" class="nd y"><rect x="2144" y="2839" width="98" height="57"/><text x="2193" y="2876">臂后面</text></g>
<g id="n-gs-zy2" class="nd y"><rect x="2042" y="2929" width="73" height="57"/><text x="2078.5" y="2966">作用</text></g>
<g id="n-gs-zy2-t" class="nd y"><rect x="2144" y="2929" width="123" height="57"/><text x="2205.5" y="2966">伸肘关节</text></g>
<g id="n-qianbi" class="nd y"><rect x="1788" y="3063" width="98" height="57"/><text x="1837" y="3100">前臂肌</text></g>
<g id="n-qianqun" class="nd y"><rect x="1915" y="3018" width="73" height="57"/><text x="1951.5" y="3055">前群</text></g>
<g id="n-houqun" class="nd y"><rect x="1915" y="3108" width="73" height="57"/><text x="1951.5" y="3145">后群</text></g>
<g id="n-shouji" class="nd y"><rect x="1788" y="3242" width="73" height="57"/><text x="1824.5" y="3279">手肌</text></g>
<g id="n-yuji" class="nd y"><rect x="1890" y="3197" width="98" height="57"/><text x="1939" y="3234">鱼际肌</text></g>
<g id="n-xyuji" class="nd y"><rect x="1890" y="3286" width="123" height="57"/><text x="1951.5" y="3323">小鱼际肌</text></g>

<g id="n-toujing" class="nd p pb"><rect x="1628" y="3607" width="131" height="59"/><text x="1693.5" y="3645">头颈肌</text></g>
<g id="n-touji" class="nd b"><rect x="1788" y="3488" width="74" height="57"/><text x="1825" y="3525">头肌</text></g>
<g id="n-tj-zc" class="nd b"><rect x="1890" y="3488" width="74" height="57"/><text x="1927" y="3525">组成</text></g>
<g id="n-mianji" class="nd b"><rect x="1992" y="3421" width="74" height="57"/><text x="2029" y="3458">面肌</text></g>
<g id="n-ylz" class="nd b"><rect x="2095" y="3376" width="122" height="57"/><text x="2156" y="3413">眼轮匝肌</text></g>
<g id="n-ylz-zy" class="nd b"><rect x="2246" y="3376" width="74" height="57"/><text x="2283" y="3413">作用</text></g>
<g id="n-ylz-t" class="nd b"><rect x="2348" y="3376" width="148" height="57"/><text x="2422" y="3413">使眼裂闭合</text></g>
<g id="n-klz" class="nd b"><rect x="2095" y="3466" width="122" height="57"/><text x="2156" y="3503">口轮匝肌</text></g>
<g id="n-klz-zy" class="nd b"><rect x="2246" y="3466" width="74" height="57"/><text x="2283" y="3503">作用</text></g>
<g id="n-klz-t" class="nd b"><rect x="2348" y="3466" width="148" height="57"/><text x="2422" y="3503">使口裂闭合</text></g>
<g id="n-jujue" class="nd b"><rect x="1992" y="3555" width="98" height="57"/><text x="2041" y="3592">咀嚼肌</text></g>
<g id="n-jingji" class="nd b"><rect x="1788" y="3729" width="74" height="57"/><text x="1825" y="3766">颈肌</text></g>
<g id="n-xstj" class="nd b"><rect x="1890" y="3729" width="148" height="57"/><text x="1964" y="3766">胸锁乳突肌</text></g>
<g id="n-xs-wz" class="nd b"><rect x="2068" y="3645" width="73" height="57"/><text x="2104.5" y="3682">位置</text></g>
<g id="n-xs-wz-t" class="nd b"><rect x="2169" y="3645" width="198" height="57"/><text x="2268" y="3682">斜列于颈部两侧</text></g>
<g id="n-xs-zy" class="nd b"><rect x="2068" y="3813" width="73" height="57"/><text x="2104.5" y="3850">作用</text></g>
<g id="n-xs-zy-1" class="nd b"><rect x="2169" y="3735" width="315" height="91"/><text x="2326.5" y="3772">两侧胸锁乳突肌同时收缩</text><text x="2326.5" y="3806">，使头向后仰</text></g>
<g id="n-xs-zy-2" class="nd b"><rect x="2169" y="3857" width="315" height="91"/><text x="2326.5" y="3894">单侧收缩，使头屈向同侧</text><text x="2326.5" y="3928">，面转向对侧</text></g>
</g>

<g id="watermarks">
<text class="wm" x="645" y="550" transform="rotate(-29 645 510)">树图 shutu.cn</text>
<text class="wm" x="1924" y="545" transform="rotate(-29 1924 505)">树图 shutu.cn</text>
<text class="wm" x="645" y="1533" transform="rotate(-29 645 1493)">树图 shutu.cn</text>
<text class="wm" x="1924" y="1540" transform="rotate(-29 1924 1500)">树图 shutu.cn</text>
<text class="wm" x="645" y="2550" transform="rotate(-29 645 2510)">树图 shutu.cn</text>
<text class="wm" x="1924" y="2550" transform="rotate(-29 1924 2510)">树图 shutu.cn</text>
<text class="wm" x="645" y="3558" transform="rotate(-29 645 3518)">树图 shutu.cn</text>
<text class="wm" x="1924" y="3558" transform="rotate(-29 1924 3518)">树图 shutu.cn</text>
<text class="wm" x="645" y="4430" transform="rotate(-29 645 4390)">树图 shutu.cn</text>
<text class="wm" x="1924" y="4430" transform="rotate(-29 1924 4390)">树图 shutu.cn</text>
</g>
</g>
</svg>
